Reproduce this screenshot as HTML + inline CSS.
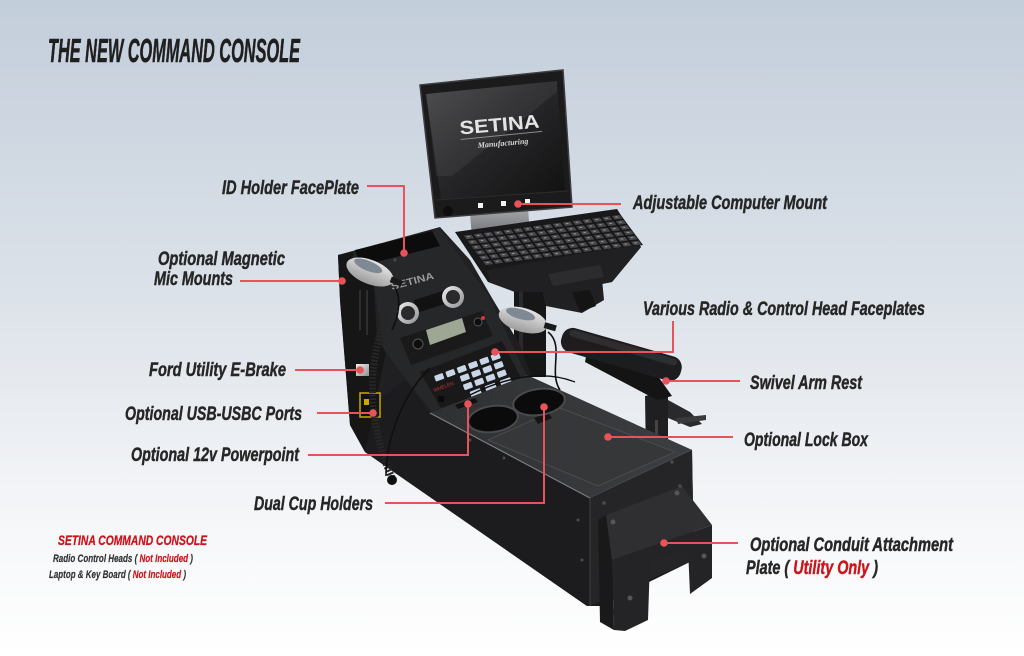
<!DOCTYPE html>
<html>
<head>
<meta charset="utf-8">
<style>
  html,body{margin:0;padding:0;}
  body{width:1024px;height:656px;overflow:hidden;background:#fff;}
  svg{display:block;}
  .lbl{font-family:"Liberation Sans Narrow","Liberation Sans",sans-serif;font-weight:bold;font-style:italic;fill:#262626;stroke:#262626;stroke-width:0.45;}
</style>
</head>
<body>
<svg width="1024" height="656" viewBox="0 0 1024 656" xmlns="http://www.w3.org/2000/svg">
  <defs>
    <linearGradient id="bg" x1="0" y1="0" x2="0" y2="1">
      <stop offset="0" stop-color="#c3cedb"/>
      <stop offset="0.45" stop-color="#dce2e9"/>
      <stop offset="0.8" stop-color="#f6f7f9"/>
      <stop offset="1" stop-color="#ffffff"/>
    </linearGradient>
    <linearGradient id="scr" x1="0" y1="0" x2="1" y2="1">
      <stop offset="0" stop-color="#444446"/>
      <stop offset="0.4" stop-color="#2a2a2c"/>
      <stop offset="1" stop-color="#111112"/>
    </linearGradient>
    <linearGradient id="silver" x1="0" y1="0" x2="1" y2="1">
      <stop offset="0" stop-color="#f2f2f2"/>
      <stop offset="1" stop-color="#8e8e8e"/>
    </linearGradient>
    <linearGradient id="mic" x1="0" y1="0" x2="0" y2="1">
      <stop offset="0" stop-color="#e6e6e6"/>
      <stop offset="1" stop-color="#9c9c9c"/>
    </linearGradient>
    <linearGradient id="side" x1="0" y1="0" x2="1" y2="1">
      <stop offset="0" stop-color="#242426"/>
      <stop offset="1" stop-color="#161617"/>
    </linearGradient>
    <linearGradient id="deck" x1="0" y1="0" x2="1" y2="0">
      <stop offset="0" stop-color="#2f3032"/>
      <stop offset="1" stop-color="#3d3e41"/>
    </linearGradient>
    <linearGradient id="stand" x1="0" y1="0" x2="0" y2="1">
      <stop offset="0" stop-color="#a4a6a9"/>
      <stop offset="1" stop-color="#6c6e71"/>
    </linearGradient>
    <pattern id="keys" patternUnits="userSpaceOnUse" width="1" height="1">
      <rect x="0" y="0" width="1" height="1" fill="#141415"/>
      <rect x="0.12" y="0.14" width="0.78" height="0.72" fill="#47474a"/>
      <rect x="0.35" y="0.35" width="0.25" height="0.18" fill="#9a9a9c"/>
    </pattern>
  </defs>

  <rect x="0" y="0" width="1024" height="656" fill="url(#bg)"/>

  <text class="lbl" x="48" y="62" font-size="33" textLength="252" lengthAdjust="spacingAndGlyphs" style="fill:#1f1f1f;stroke:#1f1f1f;stroke-width:0.6">THE NEW COMMAND CONSOLE</text>

  <!-- Monitor -->
  <polygon points="470,214 528,209 530,233 472,237" fill="url(#stand)"/>
  <polygon points="420,85 563,70 572,207 435,218" fill="#1b1b1c" stroke="#3e3e40" stroke-width="1.5"/>
  <polygon points="426,94 557,81 565,190 441,199" fill="url(#scr)"/>
  <polygon points="426,94 557,81 557,92 452,176 436,176" fill="#ffffff" opacity="0.06"/>
  <g transform="translate(500,131) rotate(-5)">
    <text x="0" y="0" text-anchor="middle" font-family="Liberation Sans, sans-serif" font-size="19" font-weight="bold" fill="#e4e4e4" textLength="80" lengthAdjust="spacingAndGlyphs">SETINA</text>
    <line x1="-40" y1="5" x2="42" y2="4" stroke="#8a8a8a" stroke-width="1"/>
    <text x="2" y="15" text-anchor="middle" font-family="Liberation Serif, serif" font-style="italic" font-weight="bold" font-size="8" fill="#d8d8d8">Manufacturing</text>
  </g>
  <line x1="436" y1="200" x2="568" y2="191" stroke="#2c2c2e" stroke-width="1"/>
  <circle cx="448" cy="211" r="5" fill="#0e0e0f"/>
  <rect x="478" y="203" width="5" height="5" fill="#f4f4f4"/>
  <rect x="501" y="201" width="5" height="5" fill="#f4f4f4"/>
  <rect x="525" y="199" width="5" height="5" fill="#f4f4f4"/>

  <!-- Mount pole & block -->
  <rect x="514" y="282" width="32" height="95" fill="#161617"/>
  <rect x="519" y="290" width="4" height="80" fill="#2a2a2c"/>
  <polygon points="540,283 602,279 604,300 582,313 546,306" fill="#202022"/>
  <polygon points="572,292 590,290 596,306 580,312" fill="#141415"/>

  <!-- Keyboard -->
  <polygon points="455,232 617,209 641,247 612,282 560,292 515,292 488,282" fill="#19191a"/>
  <polygon points="487,270 632,245 641,247 612,282 560,292 515,292 490,282" fill="#202022"/>
  <polygon points="548,274 600,265 604,277 553,286" fill="#2c2c2e"/>
  <g transform="matrix(9.875,-1.3125,3.833,5.167,462,235)">
    <rect x="0" y="0" width="16" height="6" fill="url(#keys)"/>
  </g>

  <!-- Armrest bracket -->
  <polygon points="645,396 668,391 668,452 646,458" fill="#1f1f21"/>
  <polygon points="668,400 690,412 702,424 690,427 668,418" fill="#2a2a2c"/>
  <polygon points="676,418 706,415 706,420 678,424" fill="#3a3a3c"/>
  <rect x="655" y="420" width="3" height="35" fill="#444"/>

  <!-- Main body -->
  <polygon points="338,255 440,227 470,260 492,298 520,345 532,378 692,450 694,560 600,606 587,606 365,452 350,425 340,300" fill="url(#side)"/>
  <polygon points="405,380 430,413 590,498 590,606 587,606 365,452 352,420" fill="#1c1c1e"/>
  <polygon points="338,255 352,252 374,283 377,340 386,352 365,452 350,425 340,300" fill="#161617"/>
  <line x1="360" y1="290" x2="360" y2="330" stroke="#2e2e30" stroke-width="2"/>
  <line x1="367" y1="290" x2="367" y2="335" stroke="#2e2e30" stroke-width="2"/>
  <polygon points="352,256 440,229 490,298 530,383 432,412 408,382 384,350 374,285" fill="#262729"/>
  <polygon points="355,250 432,231 440,246 360,266" fill="#0c0c0d"/>
  <text x="392" y="290" transform="rotate(-15 392 290)" font-family="Liberation Sans, sans-serif" font-size="10" font-weight="bold" fill="#9b9b9d" textLength="44" lengthAdjust="spacingAndGlyphs">SETINA</text>
  <polygon points="414,300 446,290 448,303 416,313" fill="#121213"/>
  <circle cx="408" cy="313" r="11" fill="url(#silver)"/>
  <circle cx="408" cy="313" r="7" fill="#2a2a2c"/>
  <circle cx="453" cy="297" r="11" fill="url(#silver)"/>
  <circle cx="453" cy="297" r="7" fill="#2a2a2c"/>
  <polygon points="400,338 482,311 493,336 411,365" fill="#1a1a1b"/>
  <polygon points="426,330 462,318 466,332 430,345" fill="#9ea794"/>
  <circle cx="418" cy="344" r="5" fill="#0e0e0f" stroke="#555" stroke-width="1"/>
  <circle cx="478" cy="322" r="4" fill="#0e0e0f" stroke="#555" stroke-width="1"/>
  <circle cx="483" cy="318" r="2" fill="#d33"/>
  <polygon points="420,372 502,341 522,380 441,408" fill="#19191a"/>
  <g transform="translate(434,376) rotate(-20)" fill="#c9d6e8">
    <rect x="0" y="0" width="9" height="6" rx="1"/><rect x="12" y="0" width="9" height="6" rx="1"/><rect x="24" y="0" width="9" height="6" rx="1"/><rect x="36" y="0" width="9" height="6" rx="1"/><rect x="48" y="0" width="9" height="6" rx="1"/><rect x="60" y="0" width="9" height="6" rx="1"/>
    <rect x="24" y="9" width="9" height="6" rx="1"/><rect x="36" y="9" width="9" height="6" rx="1"/><rect x="48" y="9" width="9" height="6" rx="1"/><rect x="60" y="9" width="9" height="6" rx="1"/>
    <rect x="24" y="18" width="9" height="6" rx="1"/><rect x="36" y="18" width="9" height="6" rx="1"/><rect x="48" y="18" width="9" height="6" rx="1"/><rect x="60" y="18" width="9" height="6" rx="1"/>
    <rect x="28" y="27" width="11" height="6" rx="1"/><rect x="44" y="27" width="11" height="6" rx="1"/><rect x="60" y="27" width="11" height="6" rx="1"/>
  </g>
  <text x="434" y="392" transform="rotate(-20 434 392)" font-family="Liberation Sans, sans-serif" font-size="5" fill="#c33">WHELEN</text>
  <rect x="438" y="396" width="6" height="6" fill="#0a0a0a"/>

  <!-- Deck -->
  <polygon points="430,413 527,375 692,450 590,498" fill="url(#deck)"/>
  <line x1="430" y1="413" x2="590" y2="498" stroke="#7b7c7f" stroke-width="1.2"/>
  <line x1="590" y1="498" x2="692" y2="450" stroke="#55565a" stroke-width="1"/>
  <polygon points="560,408 675,452 598,486 488,440" fill="#363739" stroke="#4a4b4e" stroke-width="1"/>
  <polygon points="534,418 548,412 552,418 538,424" fill="#151516"/>
  <ellipse cx="493" cy="419" rx="25" ry="13" transform="rotate(-8 493 419)" fill="#0b0b0c" stroke="#4a4a4d" stroke-width="2"/>
  <ellipse cx="539" cy="402" rx="26" ry="13" transform="rotate(-8 539 402)" fill="#0b0b0c" stroke="#4a4a4d" stroke-width="2"/>
  <polygon points="455,405 475,398 478,402 458,409" fill="#121213"/>

  <!-- End face -->
  <polygon points="590,498 692,450 694,560 590,606" fill="#252527"/>
  <line x1="590" y1="498" x2="590" y2="606" stroke="#444" stroke-width="1"/>
  <polygon points="598,520 606,515 612,560 614,630 600,622" fill="#19191a"/>
  <polygon points="606,515 682,486 712,525 612,560" fill="#2f2f31"/>
  <polygon points="612,560 712,525 712,578 690,594 688,548 650,560 648,620 625,631 614,630" fill="#242426"/>
  <circle cx="613" cy="522" r="2.5" fill="#555"/>
  <circle cx="677" cy="493" r="2.5" fill="#555"/>
  <circle cx="630" cy="598" r="2.5" fill="#555"/>
  <circle cx="704" cy="556" r="2.5" fill="#555"/>
  <g fill="#4a4a4d">
    <circle cx="604" cy="503" r="1.8"/><circle cx="672" cy="462" r="1.8"/><circle cx="680" cy="486" r="1.8"/>
    <circle cx="578" cy="520" r="1.5"/><circle cx="582" cy="560" r="1.5"/><circle cx="504" cy="458" r="1.5"/>
    <circle cx="470" cy="440" r="1.5"/><circle cx="360" cy="278" r="1.5"/><circle cx="395" cy="260" r="1.5"/>
  </g>

  <rect x="356" y="364" width="13" height="12" fill="url(#silver)"/>
  <rect x="360" y="393" width="20" height="24" fill="#111" stroke="#c9a800" stroke-width="1.5"/>
  <rect x="364" y="399" width="5" height="6" fill="#c9a800"/>

  <path d="M392,292 C380,330 370,365 373,400 C376,440 385,462 392,478" fill="none" stroke="#262627" stroke-width="7" stroke-dasharray="2 1.5"/>
  <circle cx="392" cy="480" r="5" fill="#0f0f10"/>
  <path d="M430,368 C402,395 386,440 386,476" fill="none" stroke="#0f0f10" stroke-width="1.6"/>
  <path d="M395,288 C402,300 398,318 392,330" fill="none" stroke="#0f0f10" stroke-width="1.6"/>
  <path d="M548,332 C565,345 548,372 560,390" fill="none" stroke="#0f0f10" stroke-width="1.6"/>
  <path d="M470,395 C500,380 540,368 575,382" fill="none" stroke="#0f0f10" stroke-width="1.4"/>

  <g transform="rotate(22 370 272)">
    <ellipse cx="370" cy="272" rx="25" ry="12" fill="url(#mic)"/>
    <ellipse cx="366" cy="267" rx="15" ry="5" fill="#7f8994"/>
    <rect x="392" y="268" width="12" height="6" fill="#1a1a1a"/>
  </g>
  <g transform="rotate(16 523 320)">
    <ellipse cx="523" cy="320" rx="25" ry="12" fill="url(#mic)"/>
    <ellipse cx="519" cy="315" rx="15" ry="5" fill="#7f8994"/>
    <rect x="545" y="316" width="12" height="6" fill="#1a1a1a"/>
  </g>

  <!-- Armrest -->
  <polygon points="588,346 655,372 672,396 657,400 585,362" fill="#141415"/>
  <g transform="translate(566,337) rotate(16)">
    <rect x="-4" y="-11" width="124" height="25" rx="11" fill="#1d1d1f"/>
    <rect x="2" y="-9" width="112" height="7" rx="4" fill="#3a3a3c" opacity="0.6"/>
  </g>

  <!-- Callout lines -->
  <g stroke="#e8535a" stroke-width="2" fill="none">
    <path d="M367,186 H404 V253"/>
    <path d="M240,281 H342"/>
    <path d="M518,204 H621"/>
    <path d="M495,352 H673 V321"/>
    <path d="M666,381 H740"/>
    <path d="M608,437 H733"/>
    <path d="M295,370 H360"/>
    <path d="M317,413 H373"/>
    <path d="M308,455 H468 V404"/>
    <path d="M385,503 H544 V407"/>
    <path d="M664,543 H738"/>
  </g>
  <g fill="#e8535a">
    <circle cx="404" cy="253" r="3.8"/>
    <circle cx="342" cy="281" r="3.8"/>
    <circle cx="518" cy="204" r="3.8"/>
    <circle cx="495" cy="352" r="3.8"/>
    <circle cx="666" cy="381" r="3.8"/>
    <circle cx="608" cy="437" r="3.8"/>
    <circle cx="360" cy="370" r="3.8"/>
    <circle cx="373" cy="413" r="3.8"/>
    <circle cx="468" cy="404" r="3.8"/>
    <circle cx="544" cy="407" r="3.8"/>
    <circle cx="664" cy="543" r="3.8"/>
  </g>

  <!-- Labels -->
  <text class="lbl" x="222" y="194" font-size="19" textLength="137" lengthAdjust="spacingAndGlyphs">ID Holder FacePlate</text>
  <text class="lbl" x="158" y="265" font-size="19" textLength="127" lengthAdjust="spacingAndGlyphs">Optional Magnetic</text>
  <text class="lbl" x="154" y="285" font-size="19" textLength="79" lengthAdjust="spacingAndGlyphs">Mic Mounts</text>
  <text class="lbl" x="633" y="209" font-size="19" textLength="194" lengthAdjust="spacingAndGlyphs">Adjustable Computer Mount</text>
  <text class="lbl" x="643" y="315" font-size="19" textLength="282" lengthAdjust="spacingAndGlyphs">Various Radio &amp; Control Head Faceplates</text>
  <text class="lbl" x="750" y="389" font-size="19" textLength="112" lengthAdjust="spacingAndGlyphs">Swivel Arm Rest</text>
  <text class="lbl" x="744" y="446" font-size="19" textLength="124" lengthAdjust="spacingAndGlyphs">Optional Lock Box</text>
  <text class="lbl" x="149" y="376" font-size="19" textLength="137" lengthAdjust="spacingAndGlyphs">Ford Utility E-Brake</text>
  <text class="lbl" x="125" y="420" font-size="19" textLength="177" lengthAdjust="spacingAndGlyphs">Optional USB-USBC Ports</text>
  <text class="lbl" x="131" y="461" font-size="19" textLength="168" lengthAdjust="spacingAndGlyphs">Optional 12v Powerpoint</text>
  <text class="lbl" x="254" y="510" font-size="19" textLength="119" lengthAdjust="spacingAndGlyphs">Dual Cup Holders</text>
  <text class="lbl" x="750" y="551" font-size="19" textLength="203" lengthAdjust="spacingAndGlyphs">Optional Conduit Attachment</text>
  <text class="lbl" x="746" y="574" font-size="19" textLength="132" lengthAdjust="spacingAndGlyphs">Plate ( <tspan style="fill:#c8161d;stroke:#c8161d">Utility Only</tspan> )</text>

  <text class="lbl" x="58" y="545" font-size="14" textLength="149" lengthAdjust="spacingAndGlyphs" style="fill:#c8161d;stroke:#c8161d;stroke-width:0.3">SETINA COMMAND CONSOLE</text>
  <text class="lbl" x="53" y="562" font-size="11" textLength="140" lengthAdjust="spacingAndGlyphs" style="fill:#333;stroke:#333;stroke-width:0.2">Radio Control Heads ( <tspan style="fill:#c8161d;stroke:#c8161d">Not Included</tspan> )</text>
  <text class="lbl" x="49" y="578" font-size="11" textLength="137" lengthAdjust="spacingAndGlyphs" style="fill:#333;stroke:#333;stroke-width:0.2">Laptop &amp; Key Board ( <tspan style="fill:#c8161d;stroke:#c8161d">Not Included</tspan> )</text>
</svg>
</body>
</html>
